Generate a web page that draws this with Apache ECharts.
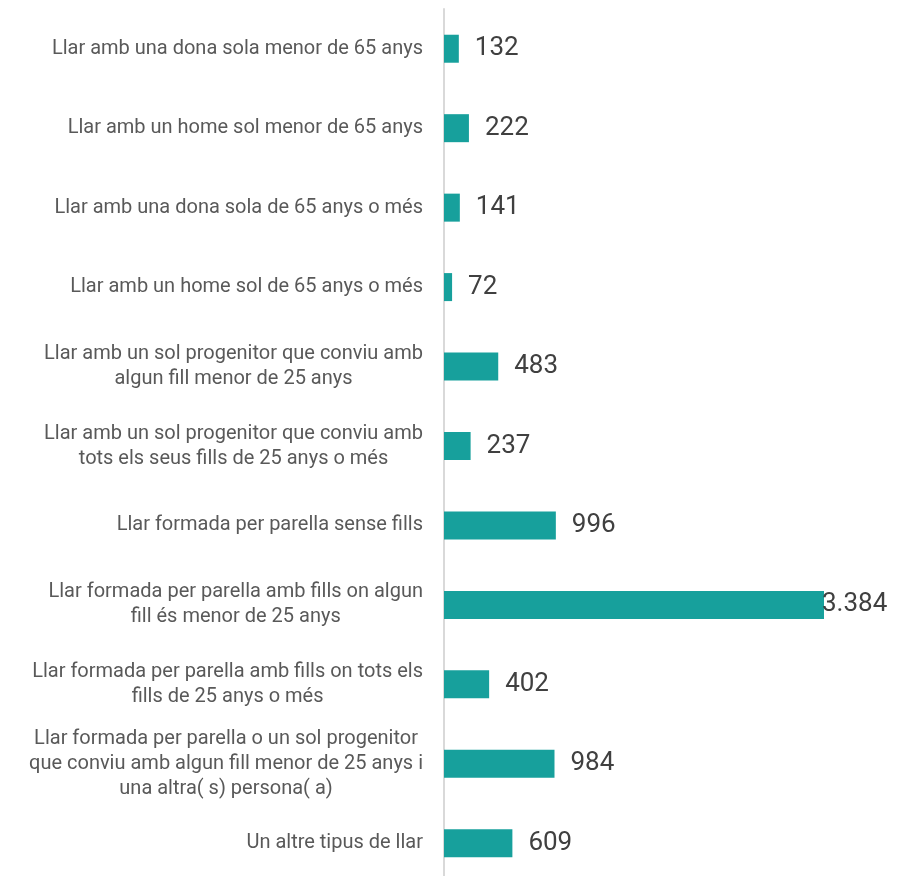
<!DOCTYPE html>
<html>
<head>
<meta charset="utf-8">
<script src="https://cdn.jsdelivr.net/npm/echarts@6/dist/echarts.min.js"></script>
<style>
  html, body { margin: 0; padding: 0; background: #fff; }
  #main { width: 906px; height: 876px; }
</style>
</head>
<body>
<div id="main"></div>
<script>
var categories = [
    'Llar amb una dona sola menor de 65 anys',
    'Llar amb un home sol menor de 65 anys',
    'Llar amb una dona sola de 65 anys o més',
    'Llar amb un home sol de 65 anys o més',
    'Llar amb un sol progenitor que conviu amb\nalgun fill menor de 25 anys',
    'Llar amb un sol progenitor que conviu amb\ntots els seus fills de 25 anys o més',
    'Llar formada per parella sense fills',
    'Llar formada per parella amb fills on algun\nfill és menor de 25 anys',
    'Llar formada per parella amb fills on tots els\nfills de 25 anys o més',
    'Llar formada per parella o un sol progenitor\nque conviu amb algun fill menor de 25 anys i\nuna altra( s) persona( a)',
    'Un altre tipus de llar'
];
var values = [132, 222, 141, 72, 483, 237, 996, 3384, 402, 984, 609];

// format amb punt de milers
function fmt(v) {
    return String(v).replace(/\B(?=(\d{3})+(?!\d))/g, '.');
}

var maxVal = Math.max.apply(null, values);
var barData = values.map(function (v) {
    if (v === maxVal) {
        return { value: v, label: { distance: -2 } };
    }
    return v;
});

var myChart = echarts.init(document.getElementById('main'));
var option = {
    backgroundColor: '#ffffff',
    animation: false,
    grid: {
        left: 444,
        top: 9,
        width: 380,
        height: 874,
        outerBoundsMode: 'none'
    },
    xAxis: {
        type: 'value',
        min: 0,
        max: maxVal,
        show: false
    },
    yAxis: {
        type: 'category',
        inverse: true,
        data: categories,
        axisTick: { show: false },
        axisLine: {
            show: true,
            lineStyle: { color: '#d9d9d9', width: 2 }
        },
        axisLabel: {
            margin: 21,
            color: '#595959',
            fontFamily: 'Roboto',
            fontSize: 20,
            lineHeight: 25,
            formatter: function (val) {
                return val.split('\n').map(function (s) {
                    return '{c|' + s + '}';
                }).join('\n');
            },
            rich: {
                c: {
                    align: 'center',
                    color: '#595959',
                    fontFamily: 'Roboto',
                    fontSize: 20,
                    lineHeight: 25
                }
            }
        }
    },
    series: [{
        type: 'bar',
        data: barData,
        barWidth: 28,
        itemStyle: { color: '#17a09c' },
        label: {
            show: true,
            position: 'right',
            distance: 16,
            color: '#404040',
            fontFamily: 'Roboto',
            fontSize: 26,
            formatter: function (p) { return fmt(p.value); }
        }
    }]
};
myChart.setOption(option);
</script>
</body>
</html>
